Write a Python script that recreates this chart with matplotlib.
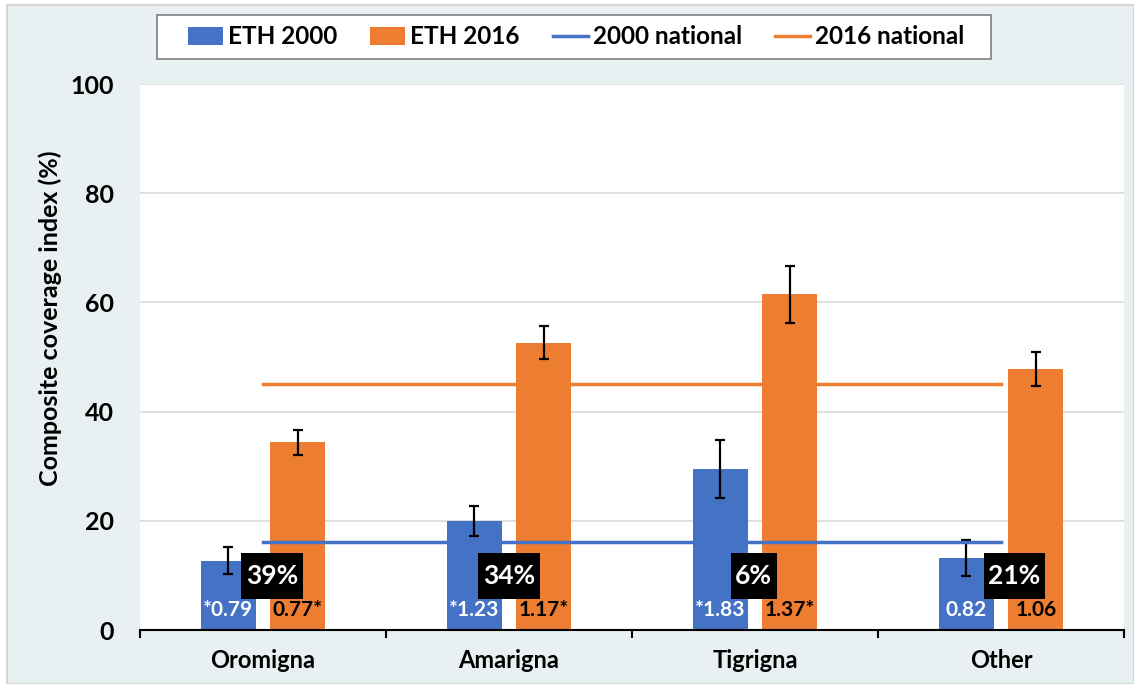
import numpy as np
import matplotlib.pyplot as plt
from matplotlib.patches import Rectangle
from matplotlib.path import Path

plt.rcParams['font.family'] = ['Lato', 'DejaVu Sans']

# данные
groups = ['Oromigna', 'Amarigna', 'Tigrigna', 'Other']
eth2000 = [12.7, 20.0, 29.5, 13.1]
eth2000_err = [2.5, 2.8, 5.3, 3.3]
eth2016 = [34.4, 52.6, 61.5, 47.8]
eth2016_err = [2.3, 3.0, 5.2, 3.1]
national_2000 = 16.1
national_2016 = 45.0
share_labels = ['39%', '34%', '6%', '21%']
share_offset = [0.037, 0.0, -0.006, 0.055]
ratio_2000 = ['*0.79', '*1.23', '*1.83', '0.82']
ratio_2016 = ['0.77*', '1.17*', '1.37*', '1.06']

blue = '#4472C4'
orange = '#ED7D31'


# чёрная подложка под процентами (выше, чем шире)
def tall_box(x0, y0, width, height, mutation_size):
    px = 0.17 * mutation_size
    py = 0.42 * mutation_size
    verts = [(x0 - px, y0 - py), (x0 + width + px, y0 - py), (x0 + width + px, y0 + height + py),
             (x0 - px, y0 + height + py), (x0 - px, y0 - py)]
    return Path(verts, closed=True)


fig = plt.figure(figsize=(11.34, 6.84), dpi=100)
bg = Rectangle((7 / 1134, 0), 1 - 7 / 1134, 1 - 5 / 684, transform=fig.transFigure,
               facecolor='#E8F0F2', edgecolor='#D6D6D6', lw=1.5, zorder=-10)
fig.patches.append(bg)
leg_box = Rectangle((157 / 1134, 1 - 59 / 684), 834 / 1134, 44 / 684, transform=fig.transFigure,
                    facecolor='white', edgecolor='#7F7F7F', lw=1.2, zorder=-5)
fig.patches.append(leg_box)
ax = fig.add_axes([140 / 1134, 54 / 684, 984 / 1134, 546 / 684])
ax.set_facecolor('white')

x = np.arange(len(groups))
w = 0.224
off = 0.142
b1 = ax.bar(x - off, eth2000, w, color=blue, yerr=eth2000_err, capsize=3.3,
            error_kw=dict(ecolor='black', elinewidth=1.6, capthick=1.6), label='ETH 2000', zorder=2)
b2 = ax.bar(x + off, eth2016, w, color=orange, yerr=eth2016_err, capsize=3.3,
            error_kw=dict(ecolor='black', elinewidth=1.6, capthick=1.6), label='ETH 2016', zorder=2)
l1, = ax.plot([x[0], x[-1]], [national_2000] * 2, color=blue, lw=2.5, label='2000 national', zorder=3)
l2, = ax.plot([x[0], x[-1]], [national_2016] * 2, color=orange, lw=2.5, label='2016 national', zorder=3)

for i in range(len(groups)):
    ax.text(x[i] + share_offset[i], 9.9, share_labels[i], ha='center', va='center', color='white',
            fontsize=19, fontweight='bold', zorder=5,
            bbox=dict(boxstyle=tall_box, facecolor='black', edgecolor='none'))
    ax.text(x[i] - off, 3.6, ratio_2000[i], ha='center', va='center', color='white',
            fontsize=15, fontweight='bold', zorder=5)
    ax.text(x[i] + off, 3.6, ratio_2016[i], ha='center', va='center', color='black',
            fontsize=15, fontweight='bold', zorder=5)

ax.set_xlim(-0.5, 3.5)
ax.set_ylim(0, 100)
ax.set_yticks([0, 20, 40, 60, 80, 100])
ax.tick_params(axis='y', length=0, labelsize=18, pad=19)
for lab in ax.get_yticklabels():
    lab.set_fontweight('bold')
ax.set_xticks(x)
ax.set_xticklabels(groups, fontsize=17, fontweight='bold')
ax.set_xticks([-0.5, 0.5, 1.5, 2.5, 3.5], minor=True)
ax.tick_params(axis='x', which='major', length=0, pad=14)
ax.tick_params(axis='x', which='minor', length=6, width=1.5, direction='out')
ax.grid(axis='y', color='#D9D9D9', lw=1.2, zorder=0)
ax.set_axisbelow(True)
for s in ['left', 'right', 'top']:
    ax.spines[s].set_visible(False)
ax.spines['bottom'].set_linewidth(1.5)
ax.set_ylabel('Composite coverage index (%)', fontsize=18, fontweight='bold')
ax.yaxis.set_label_coords(-78 / 984, (630 - 318) / 546)

leg = fig.legend(handles=[b1, b2, l1, l2], loc='center', bbox_to_anchor=(576 / 1134, 1 - 37 / 684),
                 ncol=4, frameon=False, fontsize=17.5, handlelength=1.45, handletextpad=0.2,
                 columnspacing=1.35, borderpad=0)
for t in leg.get_texts():
    t.set_fontweight('bold')

fig.savefig('out.png', dpi=100)
